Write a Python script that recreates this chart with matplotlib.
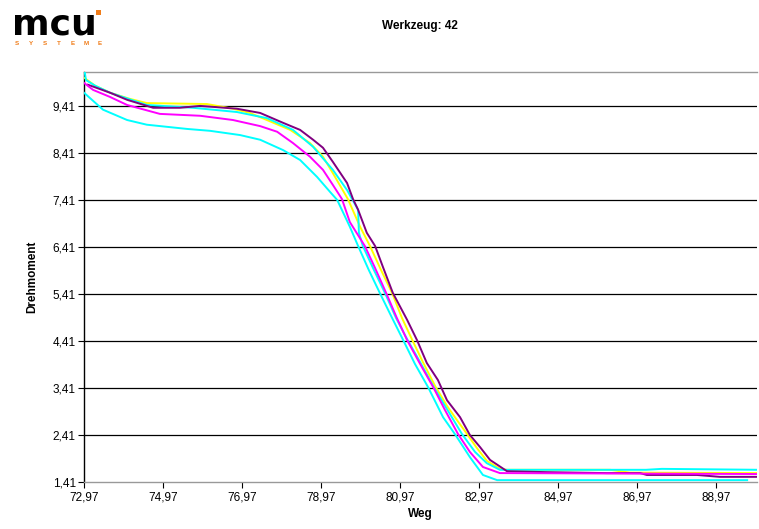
import matplotlib.pyplot as plt
from matplotlib.patches import Rectangle
from matplotlib.ticker import FuncFormatter

plt.rcParams['font.family'] = ['Liberation Sans', 'DejaVu Sans']

# Kurven (Weg / Drehmoment)
gelb_x = [72.97, 73.25, 73.63, 74.13, 74.56, 76.08, 76.74, 77.17, 77.60, 78.19, 78.69, 79.02,
          79.27, 79.65, 79.96, 80.21, 80.49, 80.77, 81.02, 81.27, 81.55, 81.86, 82.16, 82.41,
          82.67, 82.92, 83.17, 83.50, 83.68, 86.29, 86.79, 90.06]
gelb_y = [10.01, 9.84, 9.69, 9.56, 9.47, 9.45, 9.35, 9.26, 9.11, 8.90, 8.62, 8.33,
          7.98, 7.43, 6.84, 6.43, 5.92, 5.43, 4.90, 4.45, 3.96, 3.45, 3.03, 2.73,
          2.43, 2.13, 1.86, 1.69, 1.67, 1.67, 1.61, 1.60]

lila_x = [73.07, 73.63, 74.06, 74.72, 75.40, 75.91, 76.84, 77.43, 78.01, 78.44, 78.77, 79.02,
          79.27, 79.63, 79.78, 79.91, 80.13, 80.34, 80.54, 80.79, 81.15, 81.40, 81.65, 81.93,
          82.16, 82.49, 82.74, 83.00, 83.25, 83.68, 84.69, 86.21, 87.05, 87.22, 88.49, 89.07, 90.06]
lila_y = [9.86, 9.69, 9.54, 9.37, 9.37, 9.41, 9.35, 9.26, 9.05, 8.90, 8.69, 8.52,
          8.22, 7.77, 7.43, 7.20, 6.71, 6.43, 5.98, 5.43, 4.86, 4.43, 3.94, 3.58,
          3.15, 2.79, 2.41, 2.15, 1.88, 1.64, 1.62, 1.60, 1.60, 1.56, 1.56, 1.52, 1.52]

cyan1_x = [72.97, 73.02, 73.25, 73.63, 74.56, 75.73, 76.84, 77.60, 78.26, 78.77, 79.27, 79.63,
           79.91, 79.93, 80.03, 80.31, 80.59, 80.87, 81.15, 81.48, 81.81, 82.11, 82.54, 82.87,
           83.17, 83.50, 87.20, 87.60, 90.06]
cyan1_y = [10.22, 9.96, 9.84, 9.69, 9.43, 9.37, 9.28, 9.15, 8.90, 8.54, 8.05, 7.62,
           7.20, 6.71, 6.43, 5.92, 5.43, 4.90, 4.45, 3.96, 3.45, 3.03, 2.43, 2.05,
           1.81, 1.67, 1.67, 1.69, 1.67]

magenta_x = [72.97, 73.20, 73.63, 74.06, 74.89, 75.91, 76.74, 77.43, 77.86, 78.26, 78.69, 79.02,
             79.27, 79.50, 79.70, 80.08, 80.34, 80.62, 80.89, 81.15, 81.48, 81.81, 82.11, 82.44,
             82.74, 83.07, 83.50, 90.06]
magenta_y = [9.90, 9.75, 9.60, 9.43, 9.24, 9.20, 9.11, 8.98, 8.86, 8.62, 8.33, 8.05,
             7.73, 7.43, 6.94, 6.43, 5.96, 5.43, 4.90, 4.43, 3.92, 3.43, 2.94, 2.43,
             2.05, 1.73, 1.60, 1.58]

cyan2_x = [72.97, 73.45, 74.06, 74.56, 75.58, 76.16, 76.92, 77.43, 78.01, 78.44, 78.87, 79.20,
           79.38, 79.70, 79.91, 80.18, 80.46, 80.77, 81.05, 81.35, 81.68, 82.06, 82.36, 82.74,
           83.07, 83.43, 89.76]
cyan2_y = [9.69, 9.33, 9.11, 9.01, 8.92, 8.88, 8.79, 8.69, 8.47, 8.26, 7.90, 7.58,
           7.41, 6.84, 6.43, 5.92, 5.43, 4.90, 4.43, 3.92, 3.43, 2.79, 2.43, 1.94,
           1.56, 1.45, 1.45]

y_ticks = [1.41, 2.41, 3.41, 4.41, 5.41, 6.41, 7.41, 8.41, 9.41]
x_ticks = [72.97, 74.97, 76.97, 78.97, 80.97, 82.97, 84.97, 86.97, 88.97]

fig = plt.figure(figsize=(7.59, 5.29), dpi=100)
ax = fig.add_axes([0.1107, 0.0888, 0.8867, 0.775])

# Gitterlinien
for yt in y_ticks[1:]:
    ax.axhline(yt, color='black', linewidth=0.9, zorder=1)

lw = 1.4
ax.plot(gelb_x, gelb_y, color='#FFFF00', linewidth=lw, zorder=3)
ax.plot(cyan1_x, cyan1_y, color='#00FFFF', linewidth=lw, zorder=3)
ax.plot(lila_x, lila_y, color='#800080', linewidth=lw, zorder=3)
ax.plot(magenta_x, magenta_y, color='#FF00FF', linewidth=lw, zorder=3)
ax.plot(cyan2_x, cyan2_y, color='#00FFFF', linewidth=lw, zorder=3)

ax.set_xlim(72.97, 90.01)
ax.set_ylim(1.41, 10.13)
ax.set_xticks(x_ticks)
ax.set_yticks(y_ticks)
komma = FuncFormatter(lambda v, p: f'{v:.2f}'.replace('.', ','))
ax.xaxis.set_major_formatter(komma)
ax.yaxis.set_major_formatter(komma)
ax.tick_params(axis='both', labelsize=8.5, length=4, width=0.8, colors='black', pad=2)
ax.tick_params(axis='x', pad=3)

ax.spines['right'].set_visible(False)
ax.spines['top'].set_color('#999999')
ax.spines['bottom'].set_color('#999999')
ax.spines['left'].set_color('black')
for s in ax.spines.values():
    s.set_linewidth(1.0)

ax.set_xlabel('Weg', fontsize=8.5, fontweight='bold', labelpad=3)
ax.set_ylabel('Drehmoment', fontsize=8.5, fontweight='bold', labelpad=10)
fig.text(0.553, 0.951, 'Werkzeug: 42', ha='center', va='center', fontsize=8.5, fontweight='bold')

# Logo
fig.text(0.016, 0.934, 'mcu', ha='left', va='baseline', fontsize=26, fontweight='bold',
         color='black', family='DejaVu Sans')
fig.patches.append(Rectangle((0.1265, 0.9716), 0.0066, 0.0095, transform=fig.transFigure,
                             facecolor='#F07D1A', edgecolor='none'))
for i, ch in enumerate('SYSTEME'):
    fig.text(0.022 + i * 0.0183, 0.917, ch, ha='center', va='center', fontsize=4.5,
             fontweight='bold', color='#F07D1A')

plt.savefig('out.png', dpi=100, facecolor='white')
plt.close()
